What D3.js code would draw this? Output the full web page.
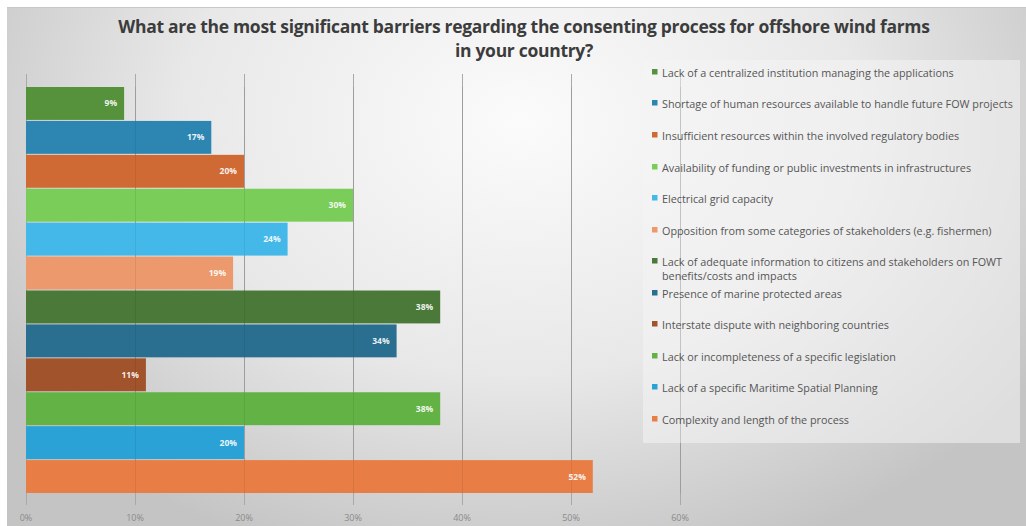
<!DOCTYPE html>
<html>
<head>
<meta charset="utf-8">
<script src="https://cdn.jsdelivr.net/npm/d3@7"></script>
<style>
  html, body { margin: 0; padding: 0; background: #ffffff; }
  svg { display: block; }
</style>
</head>
<body>
<svg id="chart" width="1026" height="526"></svg>
<script>
// Survey answers: share of respondents naming each barrier (top to bottom)
const categories = [
  "Lack of a centralized institution managing the applications",
  "Shortage of human resources available to handle future FOW projects",
  "Insufficient resources within the involved regulatory bodies",
  "Availability of funding or public investments in infrastructures",
  "Electrical grid capacity",
  "Opposition from some categories of stakeholders (e.g. fishermen)",
  "Lack of adequate information to citizens and stakeholders on FOWT benefits/costs and impacts",
  "Presence of marine protected areas",
  "Interstate dispute with neighboring countries",
  "Lack or incompleteness of a specific legislation",
  "Lack of a specific Maritime Spatial Planning",
  "Complexity and length of the process"
];
const values = [0.09, 0.17, 0.20, 0.30, 0.24, 0.19, 0.38, 0.34, 0.11, 0.38, 0.20, 0.52];
const colors = [
  "#56913c", "#2d86b2", "#d06a34", "#79cd58", "#44b9e9", "#ec9a6d",
  "#4b7939", "#2a6f8f", "#a1532c", "#63b246", "#2aa2d6", "#e87e46"
];
const tickValues = [0, 0.1, 0.2, 0.3, 0.4, 0.5, 0.6];
const titleLines = [
  "What are the most significant barriers regarding the consenting process for offshore wind farms",
  "in your country?"
];

const svg = d3.select("#chart");
const defs = svg.append("defs");

// Soft grey backdrop, lightest near the upper middle
const bg = defs.append("radialGradient")
  .attr("id", "bgGrad")
  .attr("gradientUnits", "userSpaceOnUse")
  .attr("cx", 520).attr("cy", 120).attr("r", 620)
  .attr("gradientTransform", "translate(520,120) scale(1,0.75) translate(-520,-120)");
bg.append("stop").attr("offset", "0%").attr("stop-color", "#fbfbfb");
bg.append("stop").attr("offset", "55%").attr("stop-color", "#e8e8e8");
bg.append("stop").attr("offset", "100%").attr("stop-color", "#c4c4c4");

svg.append("rect")
  .attr("x", 7).attr("y", 7).attr("width", 1019).attr("height", 519)
  .attr("fill", "url(#bgGrad)");
svg.append("line")
  .attr("x1", 7).attr("x2", 1026).attr("y1", 7.5).attr("y2", 7.5)
  .attr("stroke", "#c8c8c8").attr("stroke-width", 1);

// Title
svg.append("g").selectAll("text")
  .data(titleLines)
  .join("text")
  .attr("x", 524)
  .attr("y", (d, i) => 33 + i * 24)
  .attr("text-anchor", "middle")
  .attr("font-family", "'Open Sans', sans-serif")
  .attr("font-weight", 700)
  .attr("font-size", 17.5)
  .attr("letter-spacing", -0.3)
  .attr("fill", "#3c3c3c")
  .text(d => d);

// Scales
const x = d3.scaleLinear().domain([0, 0.6]).range([26, 680]);
const y = d3.scaleBand().domain(categories).range([87, 493]).paddingInner(0.03);

// Vertical gridlines and tick marks
const grid = svg.append("g");
grid.selectAll("line")
  .data(tickValues)
  .join("line")
  .attr("x1", d => Math.round(x(d)) + 0.5)
  .attr("x2", d => Math.round(x(d)) + 0.5)
  .attr("y1", 74)
  .attr("y2", 505)
  .attr("stroke", "#a9a9a9")
  .attr("stroke-width", 1);

// Legend panel (translucent, gridline shows through)
const legend = svg.append("g");
legend.append("rect")
  .attr("x", 643).attr("y", 60).attr("width", 377).attr("height", 383)
  .attr("fill", "#f4f4f4").attr("fill-opacity", 0.55);

// Bars
svg.append("g").selectAll("rect")
  .data(categories)
  .join("rect")
  .attr("x", x(0))
  .attr("y", d => y(d))
  .attr("width", (d, i) => x(values[i]) - x(0))
  .attr("height", y.bandwidth())
  .attr("fill", (d, i) => colors[i]);

// Faint gridlines over the bars
svg.append("g").selectAll("line")
  .data(tickValues.slice(1))
  .join("line")
  .attr("x1", d => Math.round(x(d)) + 0.5)
  .attr("x2", d => Math.round(x(d)) + 0.5)
  .attr("y1", 87)
  .attr("y2", 493)
  .attr("stroke", "#000")
  .attr("stroke-opacity", 0.07);

// Value labels inside bar ends
const fmt = d3.format(".0%");
svg.append("g").selectAll("text")
  .data(categories)
  .join("text")
  .attr("x", (d, i) => x(values[i]) - 7)
  .attr("y", d => y(d) + y.bandwidth() / 2 + 3)
  .attr("text-anchor", "end")
  .attr("font-family", "'Open Sans', sans-serif")
  .attr("font-weight", 700)
  .attr("font-size", 8.5)
  .attr("fill", "#ffffff")
  .attr("fill-opacity", 0.92)
  .text((d, i) => fmt(values[i]));

// X axis tick labels
svg.append("g").selectAll("text")
  .data(tickValues)
  .join("text")
  .attr("x", d => x(d))
  .attr("y", 521)
  .attr("text-anchor", "middle")
  .attr("font-family", "'Open Sans', sans-serif")
  .attr("font-size", 9)
  .attr("fill", "#8a8a8a")
  .text(d => fmt(d));

// Legend entries
const legendY = [73, 104, 136, 168, 199, 231, 262, 294, 325, 357, 388, 420];
const items = legend.selectAll("g.item")
  .data(categories)
  .join("g")
  .attr("class", "item")
  .attr("transform", (d, i) => `translate(652,${legendY[i]})`);
items.append("rect")
  .attr("x", 0).attr("y", -4).attr("width", 5.5).attr("height", 5.5)
  .attr("fill", (d, i) => colors[i]);
items.each(function(d) {
  const g = d3.select(this);
  const lines = d.length > 80
    ? ["Lack of adequate information to citizens and stakeholders on FOWT", "benefits/costs and impacts"]
    : [d];
  g.selectAll("text")
    .data(lines)
    .join("text")
    .attr("x", 10)
    .attr("y", (t, j) => 3.5 + j * 14)
    .attr("font-family", "'Open Sans', sans-serif")
    .attr("font-size", 10.8)
    .attr("fill", "#555555")
    .text(t => t);
});
</script>
</body>
</html>
